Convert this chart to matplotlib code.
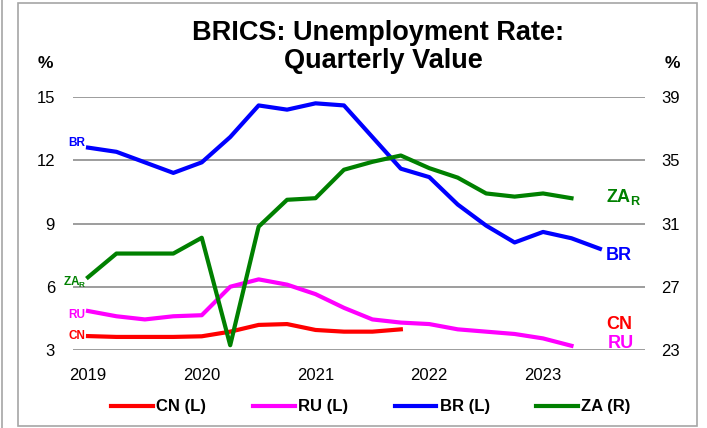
import matplotlib
matplotlib.use("Agg")
import matplotlib.pyplot as plt
from matplotlib.patches import Rectangle
from matplotlib.lines import Line2D
import numpy as np

OUTPUT_PATH = "out.png"

# valores trimestrais (2019 T1 em diante)
br_values = [12.6, 12.4, 11.9, 11.4, 11.9, 13.1, 14.6, 14.4, 14.7, 14.6,
             13.1, 11.6, 11.2, 9.9, 8.9, 8.1, 8.6, 8.3, 7.8]
za_values = [27.6, 29.1, 29.1, 29.1, 30.1, 23.3, 30.8, 32.5, 32.6, 34.4,
             34.9, 35.3, 34.5, 33.9, 32.9, 32.7, 32.9, 32.6]
ru_values = [4.85, 4.6, 4.45, 4.6, 4.65, 6.0, 6.35, 6.1, 5.65, 5.0,
             4.45, 4.3, 4.23, 3.98, 3.87, 3.76, 3.55, 3.2]
cn_values = [3.66, 3.62, 3.62, 3.62, 3.65, 3.87, 4.19, 4.23, 3.95, 3.87,
             3.87, 3.98]

year_labels = ["2019", "2020", "2021", "2022", "2023"]
left_ticks = [3, 6, 9, 12, 15]
right_ticks = [23, 27, 31, 35, 39]

COLORS = {"CN": "#ff0000", "RU": "#ff00ff", "BR": "#0000ff", "ZA": "#008000"}
FONT = "Liberation Sans"

plt.rcParams["font.family"] = [FONT, "DejaVu Sans"]
plt.rcParams["mathtext.fontset"] = "custom"
plt.rcParams["mathtext.rm"] = FONT
plt.rcParams["mathtext.bf"] = FONT + ":bold"

W, H = 707, 428
fig = plt.figure(figsize=(W / 100, H / 100), dpi=100)

# moldura cinza à volta do gráfico
fig.patches.append(Rectangle((18 / W, 2 / H), 679 / W, 423 / H, transform=fig.transFigure,
                             fill=False, edgecolor="#a6a6a6", linewidth=1.2))
fig.lines.append(Line2D([2 / W, 2 / W], [0, 1], transform=fig.transFigure,
                        color="#a6a6a6", linewidth=1.2))

ax = fig.add_axes([73 / W, (H - 350) / H, 572 / W, 253 / H])
ax2 = ax.twinx()

lw = 3
ax.plot(np.arange(len(cn_values)), cn_values, color=COLORS["CN"], lw=lw, label="CN (L)")
ax.plot(np.arange(len(ru_values)), ru_values, color=COLORS["RU"], lw=lw, label="RU (L)")
ax.plot(np.arange(len(br_values)), br_values, color=COLORS["BR"], lw=lw, label="BR (L)")
ax2.plot(np.arange(len(za_values)), za_values, color=COLORS["ZA"], lw=lw, label="ZA (R)")

q = 28.44
ax.set_xlim(-15 / q, 557 / q)
ax.set_ylim(3, 15)
ax2.set_ylim(23, 39)
ax.set_yticks(left_ticks)
ax2.set_yticks(right_ticks)
ax.set_xticks(np.arange(len(year_labels)) * 4)
ax.set_xticklabels(year_labels)

for a in (ax, ax2):
    for s in a.spines.values():
        s.set_visible(False)
    a.tick_params(length=0, labelsize=12, colors="black")
ax.tick_params(axis="y", pad=13)
ax2.tick_params(axis="y", pad=11.5)
ax.tick_params(axis="x", pad=13)
ax.grid(axis="y", color="#8c8c8c", linewidth=1.2)
ax.set_axisbelow(True)
ax.patch.set_visible(False)

# títulos
fig.text(378 / W, 1 - 33 / H, "BRICS: Unemployment Rate:", ha="center", va="center",
         fontsize=19.5, fontweight="bold")
fig.text(383 / W, 1 - 61 / H, "Quarterly Value", ha="center", va="center",
         fontsize=19.5, fontweight="bold")
fig.text(45 / W, 1 - 63 / H, "%", ha="center", va="center", fontsize=12.5, fontweight="bold")
fig.text(672 / W, 1 - 63 / H, "%", ha="center", va="center", fontsize=12.5, fontweight="bold")

# rótulos à esquerda
small = dict(fontsize=8.5, fontweight="bold", ha="right", va="center")
ax.annotate("BR", (0, br_values[0]), xytext=(-2, 3), textcoords="offset points",
            color=COLORS["BR"], **small)
ax2.annotate(r"ZA$_\mathbf{R}$", (0, za_values[0]), xytext=(-1, -4), textcoords="offset points",
             color=COLORS["ZA"], **small)
ax.annotate("RU", (0, ru_values[0]), xytext=(-2, -3), textcoords="offset points",
            color=COLORS["RU"], **small)
ax.annotate("CN", (0, cn_values[0]), xytext=(-2, 0), textcoords="offset points",
            color=COLORS["CN"], **small)

# rótulos à direita
big = dict(fontsize=13, fontweight="bold", ha="left", va="center")
xr = (606 - 88) / q
ax2.text(xr, 32.7, r"ZA$_\mathbf{R}$", color=COLORS["ZA"], **big)
ax.text(xr, 7.5, "BR", color=COLORS["BR"], **big)
ax.text(xr, 4.2, "CN", color=COLORS["CN"], **big)
ax.text(xr + 0.05, 3.3, "RU", color=COLORS["RU"], **big)

h1, l1 = ax.get_legend_handles_labels()
h2, l2 = ax2.get_legend_handles_labels()
fig.legend(h1 + h2, l1 + l2, loc="center", bbox_to_anchor=(371 / W, 1 - 407 / H),
           ncol=4, frameon=False, handlelength=2.5, handletextpad=0.2,
           columnspacing=2.8, prop={"weight": "bold", "size": 12})

fig.savefig(OUTPUT_PATH, dpi=100)
